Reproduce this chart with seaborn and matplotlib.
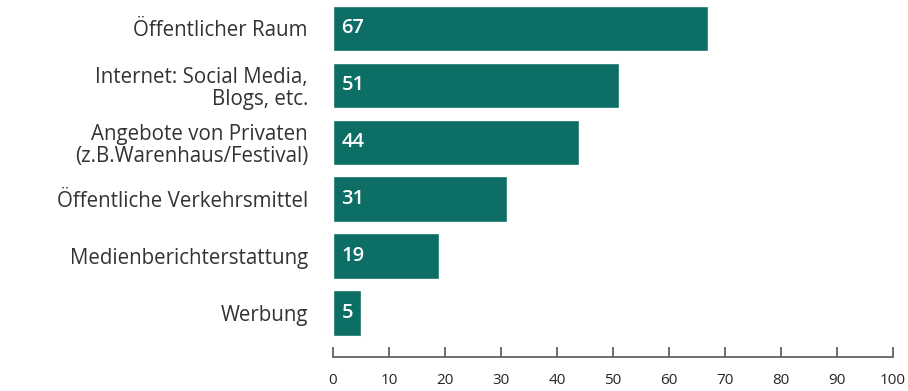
import matplotlib
matplotlib.use("Agg")
import matplotlib.pyplot as plt
import seaborn as sns
import pandas as pd

categories = [
    "Öffentlicher Raum",
    "Internet: Social Media,\nBlogs, etc.",
    "Angebote von Privaten\n(z.B.Warenhaus/Festival)",
    "Öffentliche Verkehrsmittel",
    "Medienberichterstattung",
    "Werbung",
]
values = [67, 51, 44, 31, 19, 5]
x_ticks = [0, 10, 20, 30, 40, 50, 60, 70, 80, 90, 100]

bar_color = "#0c6e64"
text_color = "#333333"
axis_color = "#555555"

sns.set_theme(style="white")
plt.rcParams["font.family"] = ["Open Sans", "DejaVu Sans"]

df = pd.DataFrame({"category": categories, "value": values})

fig = plt.figure(figsize=(9.08, 3.91), dpi=100)
ax = fig.add_axes([0.3667, 0.1266, 0.6167, 0.8734])

sns.barplot(data=df, x="value", y="category", color=bar_color,
            saturation=1, width=0.8, ax=ax, orient="h")

for i, v in enumerate(values):
    ax.text(1.5, i, str(v), color="white", fontsize=14.5, fontweight="semibold",
            va="center", ha="left")

ax.set_xlim(0, 100)
ax.set_ylim(len(categories) - 0.5, -0.5)
ax.set_xticks(x_ticks)
ax.set_xticklabels([str(t) for t in x_ticks], fontsize=14, color=text_color)
ax.set_yticks(range(len(categories)))
ax.set_yticklabels(categories, fontsize=14.8, color=text_color,
                   linespacing=1.05)
ax.set_xlabel("")
ax.set_ylabel("")

for side in ["top", "right", "left"]:
    ax.spines[side].set_visible(False)
ax.spines["bottom"].set_position(("outward", 11))
ax.spines["bottom"].set_color(axis_color)
ax.spines["bottom"].set_linewidth(1.2)

ax.tick_params(axis="x", direction="in", length=7, width=1.2,
               color=axis_color, pad=12, bottom=True)
ax.tick_params(axis="y", length=0, pad=18)

fig.savefig("out.png", dpi=100, facecolor="white")
